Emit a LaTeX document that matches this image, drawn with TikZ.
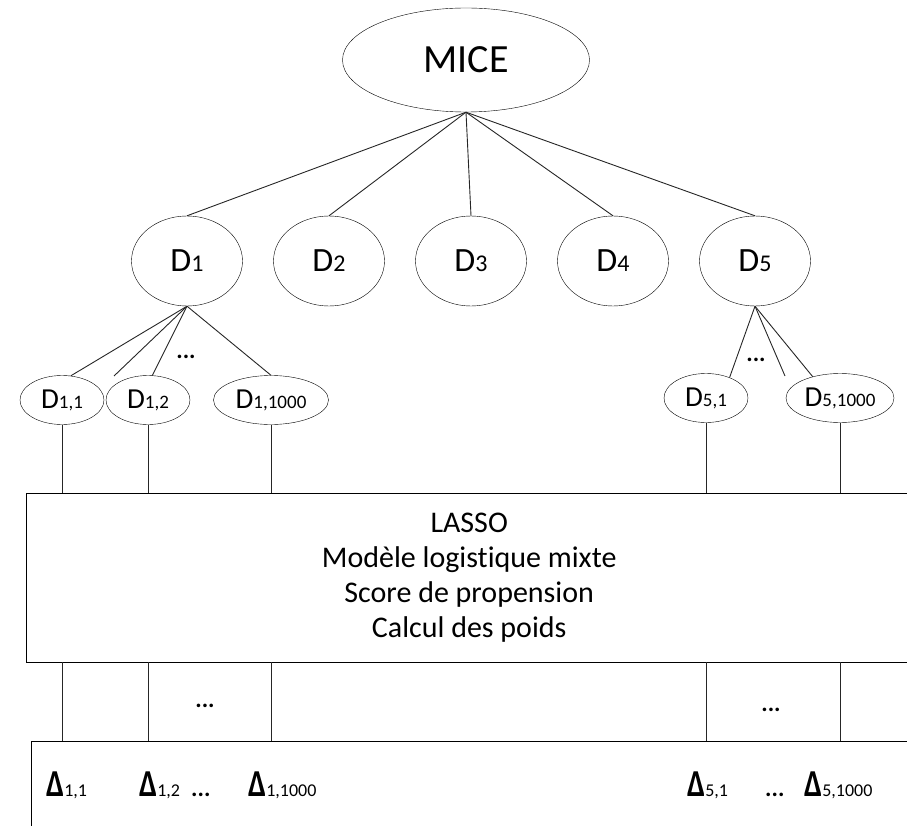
\documentclass[tikz,border=0pt]{standalone}
\usepackage{fontspec}
\setmainfont{Carlito}[Ligatures=NoCommon]
\usetikzlibrary{shapes.geometric,positioning}
\newcommand{\idx}[2][20]{{\fontsize{#1}{#1}\selectfont #2}}
\newcommand{\dlt}{\scalebox{0.92}[1.12]{\bfseries Δ}}

\begin{document}
\begin{tikzpicture}[
    x=1pt,
    y=-1pt,
    every node/.style={inner sep=0pt},
    rootnode/.style={
        draw,
        ellipse,
        minimum width=247pt,
        minimum height=104pt,
        font=\fontsize{40}{40}\selectfont
    },
    dset/.style={
        draw,
        ellipse,
        minimum width=111pt,
        minimum height=90pt,
        font=\fontsize{34}{34}\selectfont
    },
    dleaf/.style={
        draw,
        ellipse,
        minimum width=84pt,
        minimum height=49pt,
        font=\fontsize{29}{29}\selectfont
    },
    panel/.style={
        draw,
        rectangle,
        anchor=north west,
        align=center
    },
    dots/.style={font=\fontsize{24}{24}\selectfont\bfseries},
    delta/.style={anchor=base west, font=\fontsize{34}{34}\selectfont},
    link/.style={line width=0.9pt, black!85}
]
\useasboundingbox (0,0) rectangle (907,826);
\clip (0,0) rectangle (907,826);

% root
\node[rootnode] (mice) at (466,60) {MICE};

% imputed data sets
\node[dset] (d1) at (187,261) {D\idx[24]{1}};
\node[dset] (d2) at (329,261) {D\idx[24]{2}};
\node[dset] (d3) at (471,261) {D\idx[24]{3}};
\node[dset] (d4) at (613,261) {D\idx[24]{4}};
\node[dset] (d5) at (755,261) {D\idx[24]{5}};

\draw[link] (mice.south) -- (d1.north);
\draw[link] (mice.south) -- (d2.north);
\draw[link] (mice.south) -- (d3.north);
\draw[link] (mice.south) -- (d4.north);
\draw[link] (mice.south) -- (d5.north);

% bootstrap samples
\node[dleaf] (d11) at (62,400) {D\idx[19]{1,1}};
\node[dleaf] (d12) at (148,400) {D\idx[19]{1,2}};
\node[dleaf, minimum width=115pt] (d1k) at (271,400) {D\idx[19]{1,1000}};
\node[dleaf] (d51) at (706,398) {D\idx[19]{5,1}};
\node[dleaf, minimum width=108pt] (d5k) at (840,398) {D\idx[19]{5,1000}};

\coordinate (d1free) at (114,376);
\coordinate (d5free) at (785,376);

\draw[link] (d1.south) -- (d11.70);
\draw[link] (d1.south) -- (d1free);
\draw[link] (d1.south) -- (d12.80);
\draw[link] (d1.south) -- (d1k.north);
\draw[link] (d5.south) -- (d51.41);
\draw[link] (d5.south) -- (d5free);
\draw[link] (d5.south) -- (d5k.142);

\node[dots] (dots1) at (186,357) {...};
\node[dots] (dots5) at (756,360) {...};

% analysis box
\node[panel, minimum width=886pt, minimum height=169pt,
      font=\fontsize{30}{35}\selectfont] (lasso) at (26,493)
{LASSO\\Modèle logistique mixte\\Score de propension\\Calcul des poids};

\draw[link] (d11.south) -- (d11.south |- lasso.north);
\draw[link] (d12.south) -- (d12.south |- lasso.north);
\draw[link] (d1k.south) -- (d1k.south |- lasso.north);
\draw[link] (d51.south) -- (d51.south |- lasso.north);
\draw[link] (d5k.south) -- (d5k.south |- lasso.north);

% estimates
\node[panel, minimum width=900pt, minimum height=120pt] (deltas) at (31,741) {};

\draw[link] (lasso.south -| d11.south) -- (deltas.north -| d11.south);
\draw[link] (lasso.south -| d12.south) -- (deltas.north -| d12.south);
\draw[link] (lasso.south -| d1k.south) -- (deltas.north -| d1k.south);
\draw[link] (lasso.south -| d51.south) -- (deltas.north -| d51.south);
\draw[link] (lasso.south -| d5k.south) -- (deltas.north -| d5k.south);

\node[dots] (mdots1) at (205,706) {...};
\node[dots] (mdots5) at (771,710) {...};

\node[delta] (e11) at (46,796) {\dlt\idx[18]{1,1}};
\node[delta] (e12) at (139,796) {\dlt\idx[18]{1,2}};
\node[dots, anchor=base west] (edots1) at (191,796) {...};
\node[delta] (e1k) at (248,796) {\dlt\idx[18]{1,1000}};
\node[delta] (e51) at (687,796) {\dlt\idx[18]{5,1}};
\node[dots, anchor=base west] (edots5) at (765,796) {...};
\node[delta] (e5k) at (804,796) {\dlt\idx[18]{5,1000}};

\end{tikzpicture}
\end{document}
